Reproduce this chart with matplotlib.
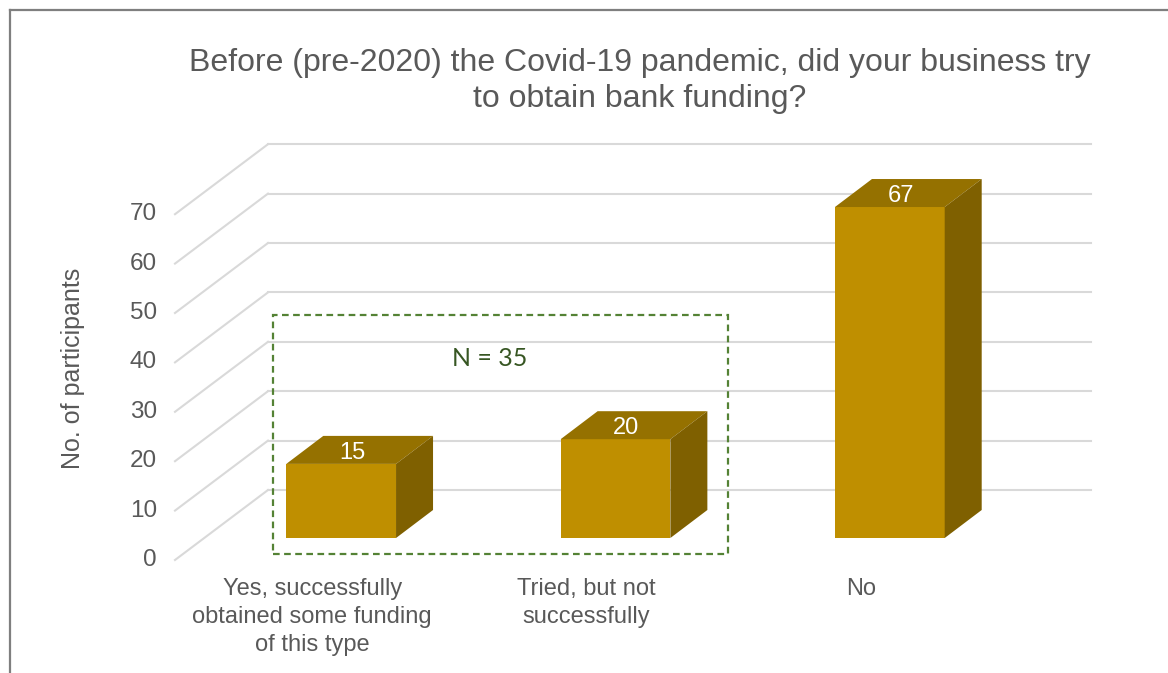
import numpy as np
import matplotlib
matplotlib.use("Agg")
import matplotlib.pyplot as plt
from matplotlib.transforms import Affine2D
from matplotlib.patches import Polygon, Rectangle
from matplotlib.lines import Line2D

# data
categories = ["Yes, successfully\nobtained some funding\nof this type",
              "Tried, but not\nsuccessfully",
              "No"]
counts = [15, 20, 67]
yticks = [0, 10, 20, 30, 40, 50, 60, 70]
title = "Before (pre-2020) the Covid-19 pandemic, did your business try\nto obtain bank funding?"
note = "N = 35"

# colours
front_col = "#BF8F00"
top_col = "#957100"
side_col = "#7F6000"
grid_col = "#D9D9D9"
text_col = "#595959"

W, H, DPI = 1168, 673, 100
fig = plt.figure(figsize=(W / DPI, H / DPI), dpi=DPI)
plt.rcParams['font.family'] = ['Liberation Sans', 'DejaVu Sans']

ax = fig.add_axes([204 / W, 135 / H, 823 / W, 345.8 / H])
ax.set_xlim(-0.5, 2.5)
ax.set_ylim(0, 70)
ax.axis("off")

# depth offsets in pixels (x right, y up)
back = Affine2D().translate(64, 48)
depth = (37, 28)

# back wall grid + floor diagonals
for v in yticks:
    ax.plot([-0.5, 2.5], [v, v], color=grid_col, lw=1.5,
            transform=ax.transData + back, clip_on=False, zorder=1)
    p0 = ax.transData.transform((-0.5, v))
    ax.add_line(Line2D([p0[0] - 29, p0[0] + 64], [p0[1] - 22, p0[1] + 48],
                       color=grid_col, lw=1.5, transform=None, clip_on=False, zorder=1))
    ax.text(-0.5, v, str(v), transform=ax.transData + Affine2D().translate(-47, -22),
            ha="right", va="center", fontsize=17.5, color=text_col)

# 3d bars
x = np.arange(len(counts))
bw = 0.4
ax.bar(x, counts, width=bw, color=front_col, zorder=3, clip_on=False)
dx, dy = depth
for xi, v in zip(x, counts):
    fl = ax.transData.transform((xi - bw / 2, v))
    fr = ax.transData.transform((xi + bw / 2, v))
    br = ax.transData.transform((xi + bw / 2, 0))
    top = [fl, fr, (fr[0] + dx, fr[1] + dy), (fl[0] + dx, fl[1] + dy)]
    side = [fr, br, (br[0] + dx, br[1] + dy), (fr[0] + dx, fr[1] + dy)]
    ax.add_patch(Polygon(top, closed=True, facecolor=top_col, edgecolor="none",
                         transform=None, clip_on=False, zorder=3))
    ax.add_patch(Polygon(side, closed=True, facecolor=side_col, edgecolor="none",
                         transform=None, clip_on=False, zorder=3))
    ax.text(xi, v, str(v), transform=ax.transData + Affine2D().translate(11, 11),
            ha="center", va="center", fontsize=17, color="white", zorder=4)

# category labels on the front edge
for xi, lab in zip(x, categories):
    ax.text(xi, 0, lab, transform=ax.transData + Affine2D().translate(-29, -40),
            ha="center", va="top", fontsize=17, color=text_col, linespacing=1.34)

# dashed box and N note
ax.add_patch(Rectangle((-0.248, -3.2), 1.658, 48.3, fill=False, edgecolor="#548235",
                       lw=1.6, ls=(0, (3, 2)), clip_on=False, zorder=5))
ax.text(0.543, 36.4, note, ha="center", va="center", fontsize=18,
        color="#375623", family=["Lato", "DejaVu Sans"], zorder=5)

# axis title
fig.text(73 / W, 1 - 368 / H, "No. of participants", rotation=90, ha="center",
         va="center", fontsize=18, color=text_col)

# chart title
fig.text(640 / W, 1 - 81 / H, title, ha="center", va="center", fontsize=23,
         color=text_col, linespacing=1.26)

# chart border
fig.add_artist(Line2D([10 / W, 10 / W], [0, 1 - 10 / H], color="#7F7F7F", lw=1.6))
fig.add_artist(Line2D([10 / W, 1], [1 - 10 / H, 1 - 10 / H], color="#7F7F7F", lw=1.6))

fig.savefig("out.png", dpi=DPI)
